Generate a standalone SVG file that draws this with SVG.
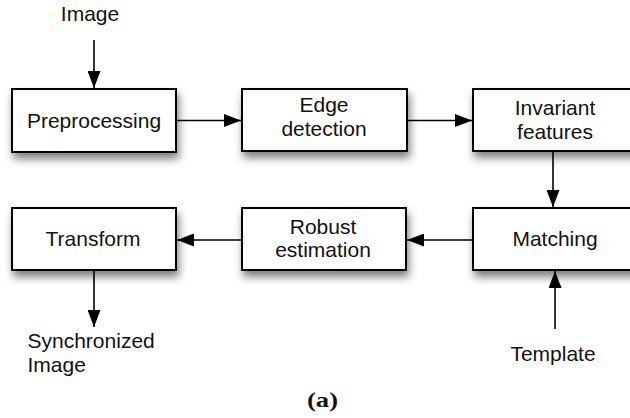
<svg xmlns="http://www.w3.org/2000/svg" width="630" height="418" viewBox="0 0 630 418">
  <style>
    .box { fill: #ffffff; stroke: #000000; stroke-width: 2; filter: url(#shadow); }
    .lbl { font-family: "Liberation Sans", Arial, sans-serif; font-size: 21px; fill: #111111; text-anchor: middle; }
    .free { font-family: "Liberation Sans", Arial, sans-serif; font-size: 21px; fill: #111111; }
    .edge { fill: none; stroke: #000000; stroke-width: 1.6; marker-end: url(#arrow); }
    .cap { font-family: "Liberation Serif", "Times New Roman", serif; font-weight: bold; font-size: 22px; fill: #111111; text-anchor: middle; }
  </style>
  <defs>
    <filter id="shadow" x="-20%" y="-30%" width="150%" height="180%">
      <feDropShadow dx="2" dy="6" stdDeviation="4.5" flood-color="#000000" flood-opacity="0.5"/>
    </filter>
    <marker id="arrow" markerUnits="userSpaceOnUse" markerWidth="17" markerHeight="13" refX="17" refY="6.5" orient="auto">
      <path d="M0,0 L17,6.5 L0,13 Z" fill="#000000"/>
    </marker>
  </defs>

  <rect width="630" height="418" fill="#ffffff"/>

  <!-- boxes -->
  <g id="preprocessing">
    <rect class="box" x="12" y="89" width="164" height="63"/>
    <text class="lbl" x="94" y="127.5">Preprocessing</text>
  </g>
  <g id="edge-detection">
    <rect class="box" x="242" y="89" width="165" height="62"/>
    <text class="lbl" x="324" y="112">Edge</text>
    <text class="lbl" x="324" y="135.5">detection</text>
  </g>
  <g id="invariant-features">
    <rect class="box" x="473" y="89" width="165" height="62"/>
    <text class="lbl" x="555" y="114.5">Invariant</text>
    <text class="lbl" x="555" y="138.5">features</text>
  </g>
  <g id="matching">
    <rect class="box" x="473" y="208" width="165" height="62"/>
    <text class="lbl" x="555" y="246">Matching</text>
  </g>
  <g id="robust-estimation">
    <rect class="box" x="242" y="208" width="164" height="62"/>
    <text class="lbl" x="323" y="233.5">Robust</text>
    <text class="lbl" x="323" y="257">estimation</text>
  </g>
  <g id="transform">
    <rect class="box" x="12" y="208" width="164" height="62"/>
    <text class="lbl" x="93" y="246">Transform</text>
  </g>

  <!-- inputs and outputs -->
  <g id="image-in">
    <text class="lbl" x="90" y="21">Image</text>
  </g>
  <g id="template-in">
    <text class="lbl" x="553" y="360.5">Template</text>
  </g>
  <g id="synchronized-out">
    <text class="free" x="27.5" y="348">Synchronized</text>
    <text class="free" x="27.5" y="372">Image</text>
  </g>

  <!-- connectors -->
  <g id="connectors">
    <path class="edge" d="M94,40 V88"/>
    <path class="edge" d="M176,120.5 H241"/>
    <path class="edge" d="M407,120.5 H472"/>
    <path class="edge" d="M553,151 V207"/>
    <path class="edge" d="M473,240 H407"/>
    <path class="edge" d="M242,240 H177"/>
    <path class="edge" d="M94,270 V327"/>
    <path class="edge" d="M555,329 V271"/>
  </g>

  <text class="cap" x="322.5" y="407" textLength="31" lengthAdjust="spacingAndGlyphs">(a)</text>
</svg>
